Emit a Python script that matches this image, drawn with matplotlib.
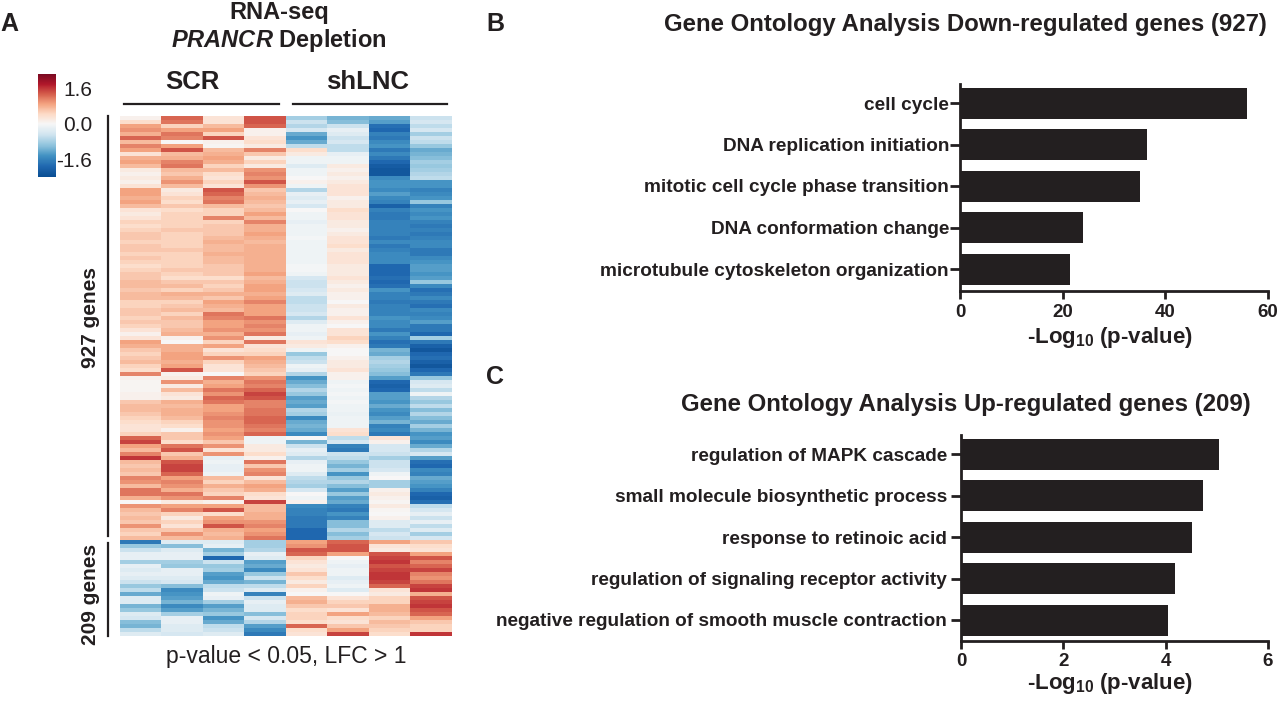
import numpy as np
import matplotlib
matplotlib.use("Agg")
import matplotlib.pyplot as plt
from matplotlib.lines import Line2D
from matplotlib.colors import TwoSlopeNorm, LinearSegmentedColormap

plt.rcParams['font.family'] = ['Liberation Sans', 'DejaVu Sans']
plt.rcParams['mathtext.fontset'] = 'custom'
plt.rcParams['mathtext.rm'] = 'Liberation Sans:bold'
plt.rcParams['mathtext.it'] = 'Liberation Sans:italic:bold'
plt.rcParams['mathtext.default'] = 'rm'

scr1 = [.1,.4,.9,1.0,.8,1.3,.7,1.1,.9,.3, .8,.9,.7,.2,.1,.2,.1,.3,.9,.9, .8,.9,.7,.3,.2,.3,.5,.4,.5,.6,
        .6,.5,.6,.6,.5,.6,.5,.4,.5,.6, .6,.7,.7,.6,.7,.7,.5,.5,.6,.6, .5,.6,.5,.3,.1,.3,.9,.8,.6,.5,
        .6,.7,.5,.4,1.1,.1,.05,.05,.05,.1, .1,.6,.7,.7,.6,.5,.4,.3,.3,.5, 1.3,1.5,.9,.7,1.1,1.6,.7,.6,.7,.6,
        1.1,1.0,.7,1.2,1.2,.8,.0,1.0,.7,.6, .7,.6,1.0,.6,.5,.7,
        -1.7,-.9,-.5,-.2,-.2,-.8,-.2,-.3,-.2,-.3, -.5,-.9,-.6,-1.2,-.3,-.3,-1.1,-.9,-.3,-.4, -1.0,-1.1,-.6,-.3]
scr2 = [1.3,1.2,.5,.9,1.2,1.1,.0,.9,1.4,.7, .8,1.1,1.2,.7,.6,.8,1.0,.7,.2,.3, .5,.4,.6,.4,.5,.5,.5,.5,.6,.5,
        .5,.5,.5,.6,.5,.5,.5,.5,.6,.5, .4,.6,.7,.5,.8,.7,.5,.6,.7,.5, .7,.6,.6,.7,.8,.1,.0,.8,.8,.9,
        .9,.8,.9,1.4,.1,.2,1.0,.2,.7,.3, .2,.8,.7,.8,.8,.7,.5,.4,.1,.6, .6,.4,1.2,1.4,.6,.8,1.4,1.5,1.5,1.3,
        .9,1.1,1.0,.8,1.2,1.0,.2,.9,1.1,.5, .2,.5,.3,.6,1.0,.7,
        -.3,-1.0,-.3,-.2,-.2,-.8,-.9,-.2,-.2,-.3, -.4,-1.0,-1.5,-1.4,-1.3,-1.1,-1.5,-1.3,-.8,-.2, -.2,-.3,-.3,-.4]
scr3 = [.3,.3,.7,.9,.5,1.4,.1,.05,.7,.8, .9,.8,.5,.7,.4,.3,.5,.3,1.4,1.3, 1.1,1.2,.7,.5,.5,1.1,.5,.6,.6,.6,
        .7,.8,.7,.7,.8,.7,.7,.6,.6,.6, .4,.6,.5,.6,.8,.6,.9,.8,.7,1.2, 1.1,.9,.9,1.0,.8,1.0,.5,.9,.3,.5,
        1.0,.5,.3,.3,.0,1.1,.8,.9,1.2,1.0, 1.3,1.2,.9,.9,1.0,1.1,1.0,1.0,.9,1.0, .9,.6,1.0,.3,1.0,-.2,-.1,-.2,-.2,-.1,
        .7,.5,.8,.6,.5,1.1,.1,.9,1.4,.4, .9,1.0,1.4,.8,.7,.8,
        -.3,-.2,-1.1,-.8,-1.9,-.5,-.9,-.8,-1.3,-1.4, -1.2,-.6,-.5,-.1,-.2,-.8,-1.3,-1.1,-.9,-1.4, -1.2,-.6,-.5,-.3]
scr4 = [1.4,1.4,1.3,.1,.1,.3,.4,.2,1.1,.6, .2,.5,.2,1.0,1.1,1.0,1.4,1.0,.6,.7, .8,.7,.6,.7,.9,.7,1.1,.8,.8,.9,
        .8,.7,.8,.8,.8,.8,.8,.8,.8,.9, .7,.8,.9,.9,.8,.9,1.1,.9,.9,.9, 1.2,1.0,1.1,1.0,1.2,.2,1.2,.3,.4,.5,
        .9,.8,.7,.6,.5,1.0,1.2,1.1,1.3,1.5, 1.4,1.1,1.1,1.2,1.2,1.3,1.3,1.2,1.1,1.3, -.1,-.1,.2,.2,.4,.1,1.2,.6,1.0,1.1,
        .3,.7,.9,.8,.4,.3,1.5,.7,.7,.8, .8,1.0,1.1,.9,1.0,1.2,
        -.8,-.8,-.7,-.2,-.3,-1.3,-1.2,-1.5,-.9,-.5, -1.1,-.6,-.3,-1.6,-.5,-.2,-.3,-.3,-1.0,-.4, -.7,-1.3,-1.5,-1.7]
shl1 = [-.8,-.5,-.7,-.4,-1.2,-1.4,-1.2,-.6,.4,.2, -.1,-.1,-.3,-.1,-.1,.0,.1,-.1,-.7,-.2, -.3,-.2,-.4,.0,-.1,-.1,-.2,-.1,-.1,-.1,
        -.05,-.1,-.1,-.1,-.1,-.1,-.1,-.05,-.05,-.1, -.4,-.5,-.5,-.4,-.3,-.6,-.6,-.5,-.5,-.4, -.7,-.3,-.1,-.1,-.2,-.1,.3,.2,-.1,-.9,
        -.6,-.5,-.1,-.2,-.7,-1.4,-1.2,-1.0,-.7,-.9, -1.3,-1.2,-1.3,-.7,-.8,-1.5,-1.2,-1.1,-1.2,-1.5, .0,-1.1,-.5,-.2,-.3,-.7,-.2,-.1,-.1,-.3,
        -.6,-.7,-.8,-.4,.0,-.1,.1,-1.5,-1.6,-1.6, -1.7,-1.7,-1.7,-1.9,-1.9,-1.9,
        .9,1.0,1.4,1.3,.5,.3,.2,.3,.6,.4, .2,.5,.1,.0,.7,.8,.6,.4,.5,.5, .4,1.3,.4,.3]
shl2 = [-1.1,-1.0,-.5,-.2,-.3,-.5,-.4,-.6,-.6,-.2, -.1,-.1,.2,.1,.2,.1,.2,.3,.3,.3, .1,.2,.2,.4,.3,.3,.2,.2,.1,.2,
        .3,.3,.4,.2,.3,.3,.3,.2,.2,.2, .3,.2,.1,.2,.1,.1,.0,.2,.1,.1, .3,.1,.0,.3,.3,.5,.4,.1,.0,.0,
        .1,.2,.2,.3,.1,.1,-.1,-.05,-.1,-.05, -.1,-.05,-.1,-.1,-.15,-.1,-.1,-.1,.3,.4, -.6,-.4,-1.6,-1.7,-.5,-.6,-.9,-1.1,-.8,-1.4,
        -.9,-.7,-1.0,-1.3,-.9,-1.3,-1.2,-1.6,-1.7,-1.4, -1.6,-1.0,-1.0,-.7,-1.0,-.8,
        1.3,1.4,1.4,.9,.0,-.1,-.2,-.1,-.1,-.3, -.2,-.1,-.3,.0,.3,.5,.6,.3,.9,.4, .3,.6,.9,1.5]
shl3 = [-1.2,-1.3,-1.8,-1.9,-1.6,-1.7,-1.5,-1.4,-1.7,-1.5, -1.7,-1.9,-2.1,-2.2,-2.2,-1.5,-1.4,-1.4,-1.5,-1.3, -1.5,-1.6,-2.0,-1.6,-1.7,-1.7,-1.6,-1.6,-1.6,-1.6,
        -1.7,-1.5,-1.7,-1.6,-1.5,-1.5,-1.5,-1.9,-1.9,-1.9, -1.8,-1.9,-1.8,-1.4,-1.6,-1.6,-1.7,-1.6,-1.6,-1.6, -1.4,-1.5,-1.5,-1.7,-1.4,-1.6,-1.8,-1.7,-1.1,-1.2,
        -.8,-.7,-.8,-.9,-1.0,-1.3,-1.9,-2.0,-1.9,-1.3, -1.3,-1.4,-1.2,-1.4,-1.5,-1.3,-1.1,-1.6,-1.5,-1.7, .3,.1,-.4,-.4,-.5,-.8,-.5,-.5,-.4,-.1,
        .0,-.8,-.8,.1,.2,.1,.05,.2,.05,.0, .1,-.3,-.3,-.6,-.4,-.5,
        .9,.3,.2,1.4,1.5,1.6,1.4,1.5,1.6,1.6, 1.5,1.3,.3,.2,.5,.5,.8,.8,.7,.5, .7,.6,.5,.4]
shl4 = [-.5,-.4,-.6,-.4,-.8,-.5,-.6,-.9,-1.2,-1.1, -1.0,-.8,-.9,-.8,-.7,-.6,-1.4,-1.4,-1.6,-1.5, -1.4,-.9,-1.6,-1.4,-1.5,-1.4,-1.6,-1.7,-1.6,-1.7,
        -1.6,-1.5,-1.5,-1.7,-1.7,-1.5,-1.4,-1.3,-1.3,-1.4, -1.3,-.9,-1.5,-1.8,-1.7,-1.5,-1.7,-1.8,-1.5,-1.6, -1.5,-1.3,-1.7,-1.7,-1.9,-.8,-1.7,-2.0,-2.2,-1.9,
        -1.8,-2.0,-2.2,-1.9,-1.7,-.9,-.4,-.3,-.6,-.1, -.7,-.9,-.6,-1.0,-.7,-1.0,-1.2,-.8,-1.1,-1.4, -1.3,-1.5,-1.2,-.7,-.4,-1.3,-1.8,-1.9,-1.5,-1.6,
        -1.2,-1.3,-1.4,-1.6,-1.9,-2.0,-1.8,-.6,-.4,-.2, -.5,-.2,-.6,-.3,-.8,-.4,
        .6,.4,.3,.9,1.4,1.1,1.3,1.5,1.1,1.0, 1.2,1.5,1.6,.8,1.4,1.5,1.6,1.4,1.3,.9, .6,.5,.5,1.6]

cbar_ticks = [1.6, 0.0, -1.6]
cbar_labels = ['1.6', '0.0', '-1.6']
cbar_low, cbar_high = -2.37, 2.23

down_terms = ["cell cycle", "DNA replication initiation", "mitotic cell cycle phase transition",
              "DNA conformation change", "microtubule cytoskeleton organization"]
down_vals = [56, 36.5, 35, 24, 21.5]
up_terms = ["regulation of MAPK cascade", "small molecule biosynthetic process", "response to retinoic acid",
            "regulation of signaling receptor activity", "negative regulation of smooth muscle contraction"]
up_vals = [5.05, 4.72, 4.52, 4.18, 4.05]

W, H = 1280, 702
fig = plt.figure(figsize=(W / 100, H / 100), dpi=100)
INK = '#231f20'
cmap = LinearSegmentedColormap.from_list('heat', ['#0b4f94', '#2068b0', '#4393c3', '#92c5de', '#d1e5f0', '#f7f7f7',
                                                  '#fddbc7', '#f4a582', '#d6604d', '#b2182b', '#7a0a22'])

def box(x0, y0, x1, y1):
    return [x0 / W, 1 - y1 / H, (x1 - x0) / W, (y1 - y0) / H]

def ftext(x, y, s, **kw):
    kw.setdefault('color', INK)
    kw.setdefault('va', 'center')
    fig.text(x / W, 1 - y / H, s, **kw)

def fline(x0, y0, x1, y1, lw=1.6):
    fig.add_artist(Line2D([x0 / W, x1 / W], [1 - y0 / H, 1 - y1 / H], color=INK, lw=lw))

# heatmap
matrix = np.array([scr1, scr2, scr3, scr4, shl1, shl2, shl3, shl4]).T
norm = TwoSlopeNorm(vcenter=0, vmin=cbar_low, vmax=cbar_high)
ax = fig.add_axes(box(120, 116, 452, 636))
ax.imshow(matrix, cmap=cmap, norm=norm, aspect='auto', interpolation='nearest')
ax.axis('off')

# colour bar
cax = fig.add_axes(box(38, 74, 56, 177))
cax.imshow(np.linspace(cbar_high, cbar_low, 256)[:, None], cmap=cmap, norm=norm, aspect='auto',
           extent=[0, 1, cbar_low, cbar_high])
cax.set_xticks([])
cax.yaxis.tick_right()
cax.set_yticks(cbar_ticks, cbar_labels)
cax.tick_params(length=0, labelsize=15, labelcolor=INK, pad=26)
for lab in cax.get_yticklabels():
    lab.set_ha('right')
for s in cax.spines.values():
    s.set_visible(False)

ftext(0, 24, 'A', fontsize=18, fontweight='bold')
ftext(486, 24, 'B', fontsize=18, fontweight='bold')
ftext(486, 377, 'C', fontsize=18, fontweight='bold')
ftext(279, 12, 'RNA-seq', fontsize=17, fontweight='bold', ha='center')
ftext(279, 40, r'$\mathit{PRANCR}$ Depletion', fontsize=17, fontweight='bold', ha='center')
ftext(192, 82, 'SCR', fontsize=18.5, fontweight='bold', ha='center')
ftext(368, 82, 'shLNC', fontsize=18.5, fontweight='bold', ha='center')
fline(124, 104, 279, 104)
fline(293, 104, 447, 104)
fline(108, 116, 108, 536)
fline(108, 543, 108, 636)
ftext(90, 318, '927 genes', fontsize=15, fontweight='bold', rotation=90, ha='center')
ftext(90, 594, '209 genes', fontsize=15, fontweight='bold', rotation=90, ha='center')
ftext(286, 657, 'p-value < 0.05, LFC > 1', fontsize=16.5, ha='center')

def bars(rect, terms, vals, xmax, xticks, title, title_x, title_y, ypad, xpad):
    a = fig.add_axes(box(*rect))
    y = np.arange(len(terms))
    step = 41.5
    first = rect[1] + 19
    a.barh(y, vals, height=31 / step, color=INK)
    a.set_ylim((rect[3] - first) / step, (rect[1] - first) / step)
    a.set_xlim(0, xmax)
    a.set_yticks(y, terms, fontsize=13.7, fontweight='bold', color=INK)
    a.set_xticks(xticks)
    a.tick_params(axis='x', width=2, length=6, color=INK, labelsize=13.5, labelcolor=INK, pad=3)
    a.tick_params(axis='y', width=2, length=7, color=INK, pad=ypad)
    for lab in a.get_xticklabels():
        lab.set_fontweight('bold')
    for side in ('top', 'right'):
        a.spines[side].set_visible(False)
    for side in ('left', 'bottom'):
        a.spines[side].set_linewidth(2)
        a.spines[side].set_color(INK)
    a.set_xlabel(r'-Log$_{10}$ (p-value)', fontsize=16, fontweight='bold', color=INK, labelpad=xpad, x=0.487)
    ftext(title_x, title_y, title, fontsize=17.3, fontweight='bold', ha='center')

bars((960, 84, 1268, 291), down_terms, down_vals, 60, [0, 20, 40, 60],
     'Gene Ontology Analysis Down-regulated genes (927)', 965, 24, 1, 3.5)
bars((961, 435, 1268, 641), up_terms, up_vals, 6, [0, 2, 4, 6],
     'Gene Ontology Analysis Up-regulated genes (209)', 965.5, 405, 3, 0)

fig.savefig('out.png', dpi=100)
